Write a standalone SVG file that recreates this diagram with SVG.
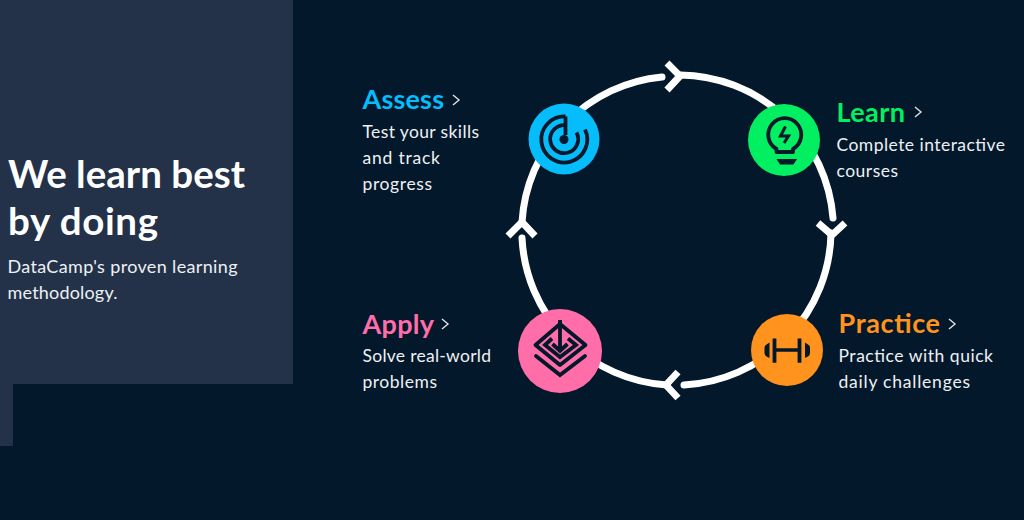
<svg xmlns="http://www.w3.org/2000/svg" width="1024" height="520" viewBox="0 0 1024 520">
<style>
text{font-family:"Lato","Noto Sans",sans-serif}
.h{font-size:38.500px;font-weight:700;fill:#fff}
.s{font-size:18px;fill:#eef1f4}
.b{font-size:17.500px;fill:#eef1f4}
.t{font-size:27px;font-weight:700}
.ring{fill:none;stroke:#fff;stroke-width:7;stroke-linecap:round}
.arm{fill:none;stroke:#fff;stroke-width:7}
.ic{fill:none;stroke:#03182b;stroke-width:3.800}
.chev{fill:none;stroke:#dfe3e8;stroke-width:1.400}
.f{fill:#03182b}
</style>
<rect width="1024" height="520" fill="#03182b"/>
<path d="M0 0H293V384H13V446H0Z" fill="#233149"/>
<g id="intro">
<text class="h" x="8" y="188" textLength="237">We learn best</text>
<text class="h" x="8" y="235" textLength="150">by doing</text>
<text class="s" x="7.500" y="273" textLength="230">DataCamp's proven learning</text>
<text class="s" x="7.500" y="299" textLength="110">methodology.</text>
</g>
<g id="connectors">
<path class="ring" d="M522 222A155 155 0 0 1 662 77"/>
<path class="ring" d="M680 75A155 155 0 0 1 833 218"/>
<path class="ring" d="M831 233A155 155 0 0 1 684 385"/>
<path class="ring" d="M667 385A155 155 0 0 1 522 238"/>
<path class="arm" d="M667 63L680 76L667 90"/>
<path class="arm" d="M818 223L832 235L845 223"/>
<path class="arm" d="M678 372L666 385L678 398"/>
<path class="arm" d="M508 236L522 222L535 236"/>
</g>
<g id="assess">
<circle cx="564" cy="139" r="35.500" fill="#06bdfc"/>
<path class="ic" d="M565.500 116.500A23 23 0 1 0 585 129.500"/>
<path class="ic" d="M565.500 125.200A14 14 0 1 0 576.500 132.500"/>
<path class="ic" d="M565.500 116.500V135"/>
<circle class="f" cx="564" cy="139.500" r="4.500"/>
<text class="t" x="362.500" y="109" fill="#06bdfc" textLength="81.500">Assess</text>
<path class="chev" d="M453 95L459 100L453 105"/>
<text class="b" x="362.500" y="138" textLength="116.500">Test your skills</text>
<text class="b" x="362.500" y="164" textLength="77.500">and track</text>
<text class="b" x="362.500" y="190" textLength="69.500">progress</text>
</g>
<g id="learn">
<circle cx="784" cy="140" r="36" fill="#03ef62"/>
<path class="ic" stroke-linejoin="round" d="M776.500 152V149A16.500 16.500 0 1 1 793 149V152Z"/>
<path class="ic" style="stroke-width:3" d="M785.500 126.500L780.500 136H788.500L784 143"/>
<path class="f" d="M776.500 159H797L793.500 164.500H780Z"/>
<text class="t" x="836.500" y="122" fill="#03ef62" textLength="68.500">Learn</text>
<path class="chev" d="M915 107L921 112L915 117"/>
<text class="b" x="836.500" y="151" textLength="168.500">Complete interactive</text>
<text class="b" x="836.500" y="177" textLength="61.500">courses</text>
</g>
<g id="practice">
<circle cx="787" cy="350" r="36" fill="#ff931e"/>
<path class="ic" d="M774.500 338.500V362.700M799.500 338.500V362.700"/>
<path class="ic" style="stroke-width:3.500" d="M776 350H798"/>
<path class="f" d="M769.500 342.500V358L766.500 356.500Q764.500 355 764.500 353V347.500Q764.500 345.500 766.500 344.500ZM805 342.500V358L808 356.500Q810 355 810 353V347.500Q810 345.500 808 344.500Z"/>
<text class="t" x="838.500" y="333" fill="#ff931e" textLength="101.500">Practice</text>
<path class="chev" d="M949 319L955 324L949 329"/>
<text class="b" x="838.500" y="362" textLength="154.500">Practice with quick</text>
<text class="b" x="838.500" y="388" textLength="131.500">daily challenges</text>
</g>
<g id="apply">
<circle cx="560" cy="351" r="42" fill="#ff6ea9"/>
<path class="ic" stroke-linejoin="round" d="M560 324L535.500 345L560 365L585.500 345Z"/>
<path class="ic" d="M552 338.500L545 345L560 357L576 345L568 338.500"/>
<path class="ic" stroke-linecap="round" d="M536 356L560 375L585 356"/>
<path class="ic" d="M560 320V350M552.500 344L560 351L567.500 344"/>
<text class="t" x="362.500" y="334" fill="#ff6ea9" textLength="71.500">Apply</text>
<path class="chev" d="M442 319L448 324L442 329"/>
<text class="b" x="362.500" y="362" textLength="128.500">Solve real-world</text>
<text class="b" x="362.500" y="388" textLength="74.500">problems</text>
</g>
</svg>
